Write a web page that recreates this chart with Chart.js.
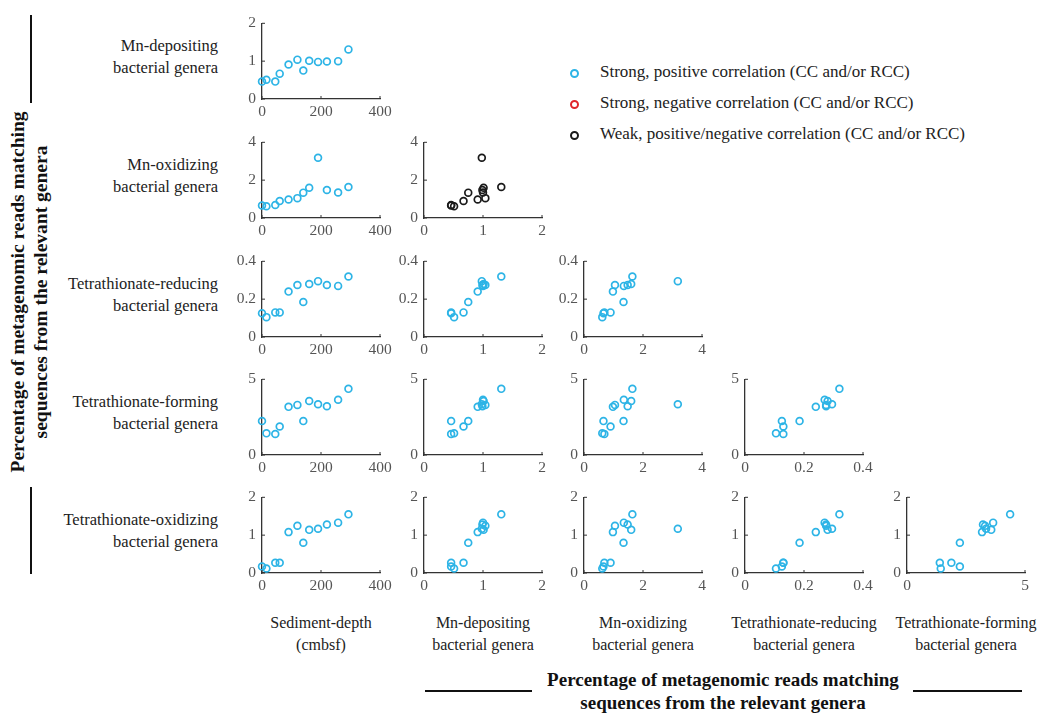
<!DOCTYPE html>
<html>
<head>
<meta charset="utf-8">
<script src="https://cdn.jsdelivr.net/npm/chart.js@4.4.0/dist/chart.umd.min.js"></script>
<style>
  body { margin: 0; background: #fff; font-family: "Liberation Serif", serif; }
  #page { position: relative; width: 1038px; height: 713px; overflow: hidden; }
  canvas.panel { position: absolute; }
  .lbl { position: absolute; color: #222; font-size: 16.5px; line-height: 22px; white-space: nowrap; }
  .rowlbl { text-align: right; width: 200px; }
  .collbl { text-align: center; width: 200px; font-size: 16px; }
  .title { position: absolute; font-weight: bold; font-size: 19px; line-height: 23px; color: #111; text-align: center; white-space: nowrap; }
  .bar { position: absolute; background: #111; }
  .leg { position: absolute; font-size: 17px; color: #222; white-space: nowrap; }
  .dot { position: absolute; width: 5px; height: 5px; border-radius: 50%; border: 2px solid; }
</style>
</head>
<body>
<div id="page"></div>
<script>
// sample values read per sediment layer
var depth          = [0, 15, 45, 60, 90, 120, 140, 160, 190, 220, 258, 293];
var mnDepositing   = [0.46, 0.51, 0.46, 0.67, 0.91, 1.04, 0.75, 1.01, 0.98, 0.99, 1.0, 1.31];
var mnOxidizing    = [0.66, 0.62, 0.69, 0.90, 0.98, 1.05, 1.34, 1.60, 3.18, 1.48, 1.35, 1.64];
var tetraReducing  = [0.125, 0.105, 0.13, 0.13, 0.24, 0.275, 0.185, 0.28, 0.295, 0.275, 0.27, 0.32];
var tetraForming   = [2.24, 1.43, 1.39, 1.88, 3.18, 3.31, 2.24, 3.57, 3.35, 3.22, 3.65, 4.37];
var tetraOxidizing = [0.17, 0.12, 0.27, 0.27, 1.08, 1.25, 0.80, 1.14, 1.17, 1.28, 1.33, 1.55];

var xVars = [depth, mnDepositing, mnOxidizing, tetraReducing, tetraForming];
var yVars = [mnDepositing, mnOxidizing, tetraReducing, tetraForming, tetraOxidizing];

var xTicks = [[0, 200, 400], [0, 1, 2], [0, 2, 4], [0, 0.2, 0.4], [0, 5]];
var yTicks = [[0, 1, 2], [0, 2, 4], [0, 0.2, 0.4], [0, 5], [0, 1, 2]];

var rowNames = [
  ["Mn-depositing", "bacterial genera"],
  ["Mn-oxidizing", "bacterial genera"],
  ["Tetrathionate-reducing", "bacterial genera"],
  ["Tetrathionate-forming", "bacterial genera"],
  ["Tetrathionate-oxidizing", "bacterial genera"]
];
var colNames = [
  ["Sediment-depth", "(cmbsf)"],
  ["Mn-depositing", "bacterial genera"],
  ["Mn-oxidizing", "bacterial genera"],
  ["Tetrathionate-reducing", "bacterial genera"],
  ["Tetrathionate-forming", "bacterial genera"]
];
// panels with weak correlation [row, col]
var weakPanels = [[1, 1]];

var legendItems = [
  "Strong, positive correlation (CC and/or RCC)",
  "Strong, negative correlation (CC and/or RCC)",
  "Weak, positive/negative correlation (CC and/or RCC)"
];
var axisTitle = ["Percentage of metagenomic reads matching", "sequences from the relevant genera"];

// layout
var colLeft = [262, 424, 584, 745, 907];
var rowTop = [16, 135, 254, 372, 490];
var plotW = 118, plotH = 83;
var padL = 40, padT = 8, padR = 18, padB = 26;
var cyan = '#2db4e6', weak = '#1a1a1a', red = '#e0262b';
var tickFont = { family: "'Liberation Serif', 'DejaVu Serif', serif", size: 15.5 };

var page = document.getElementById('page');

// inward tick marks, MATLAB style
var innerTicks = {
  id: 'innerTicks',
  afterDraw: function(chart) {
    var ctx = chart.ctx, a = chart.chartArea;
    ctx.save();
    ctx.strokeStyle = '#333';
    ctx.lineWidth = 1;
    chart.scales.x.ticks.forEach(function(t) {
      var px = chart.scales.x.getPixelForValue(t.value);
      ctx.beginPath(); ctx.moveTo(px, a.bottom); ctx.lineTo(px, a.bottom - 3); ctx.stroke();
    });
    chart.scales.y.ticks.forEach(function(t) {
      var py = chart.scales.y.getPixelForValue(t.value);
      ctx.beginPath(); ctx.moveTo(a.left, py); ctx.lineTo(a.left + 3, py); ctx.stroke();
    });
    ctx.restore();
  }
};

function isWeak(r, c) {
  for (var i = 0; i < weakPanels.length; i++) {
    if (weakPanels[i][0] == r && weakPanels[i][1] == c) return true;
  }
  return false;
}

function makePanel(r, c) {
  var cv = document.createElement('canvas');
  cv.className = 'panel';
  cv.width = padL + plotW + padR;
  cv.height = padT + plotH + padB;
  cv.style.left = (colLeft[c] - padL) + 'px';
  cv.style.top = (rowTop[r] - padT) + 'px';
  page.appendChild(cv);

  var pts = [];
  for (var i = 0; i < depth.length; i++) {
    pts.push({ x: xVars[c][i], y: yVars[r][i] });
  }
  var color = isWeak(r, c) ? weak : cyan;
  var xt = xTicks[c], yt = yTicks[r];

  new Chart(cv.getContext('2d'), {
    type: 'scatter',
    data: {
      datasets: [{
        data: pts,
        pointStyle: 'circle',
        pointRadius: 3.4,
        pointBorderWidth: 1.7,
        pointBackgroundColor: 'rgba(255,255,255,0)',
        pointBorderColor: color,
        clip: false
      }]
    },
    options: {
      responsive: false,
      animation: false,
      layout: { autoPadding: false, padding: { left: 0, top: padT, right: padR, bottom: 0 } },
      plugins: { legend: { display: false }, tooltip: { enabled: false } },
      scales: {
        x: {
          type: 'linear',
          min: xt[0], max: xt[xt.length - 1],
          afterBuildTicks: function(s) { s.ticks = xt.map(function(v) { return { value: v }; }); },
          afterFit: function(s) { s.height = padB; },
          grid: { display: false, drawTicks: false },
          border: { display: true, color: '#333', width: 1.3 },
          ticks: {
            padding: 4, color: '#555', maxRotation: 0,
            font: tickFont,
            callback: function(v) { return String(v); }
          }
        },
        y: {
          type: 'linear',
          min: yt[0], max: yt[yt.length - 1],
          afterBuildTicks: function(s) { s.ticks = yt.map(function(v) { return { value: v }; }); },
          afterFit: function(s) { s.width = padL; },
          grid: { display: false, drawTicks: false },
          border: { display: true, color: '#333', width: 1.3 },
          ticks: {
            padding: 6, color: '#555',
            font: tickFont,
            callback: function(v) { return String(v); }
          }
        }
      }
    },
    plugins: [innerTicks]
  });
}

for (var r = 0; r < 5; r++) {
  for (var c = 0; c <= r; c++) {
    makePanel(r, c);
  }
}

function addDiv(cls, html, left, top, extra) {
  var d = document.createElement('div');
  d.className = cls;
  d.innerHTML = html;
  d.style.left = left + 'px';
  d.style.top = top + 'px';
  if (extra) { for (var k in extra) d.style[k] = extra[k]; }
  page.appendChild(d);
  return d;
}

// row labels
for (var r = 0; r < 5; r++) {
  var cy = rowTop[r] + plotH / 2 - 1;
  addDiv('lbl rowlbl', rowNames[r].join('<br>'), 218 - 200, cy - 22);
}
// column labels
for (var c = 0; c < 5; c++) {
  addDiv('lbl collbl', colNames[c].join('<br>'), colLeft[c] + 59 - 100, 612);
}

// bottom title
addDiv('title', axisTitle.join('<br>'), 723 - 250, 668, { width: '500px' });
// left title, rotated
addDiv('title', axisTitle.join('<br>'), 29 - 250, 292 - 23, { width: '500px', fontSize: '19.5px', transform: 'rotate(-90deg)', transformOrigin: '250px 23px' });

// decorative bars
addDiv('bar', '', 30, 15, { width: '2px', height: '88px' });
addDiv('bar', '', 30, 487, { width: '2px', height: '87px' });
addDiv('bar', '', 425, 690, { width: '107px', height: '2px' });
addDiv('bar', '', 913, 690, { width: '109px', height: '2px' });

// legend
var legColors = [cyan, red, weak];
var legY = [73, 104, 135];
for (var i = 0; i < 3; i++) {
  addDiv('dot', '', 570, legY[i] - 4, { borderColor: legColors[i] });
  addDiv('leg', legendItems[i], 600, legY[i] - 11);
}
</script>
</body>
</html>
